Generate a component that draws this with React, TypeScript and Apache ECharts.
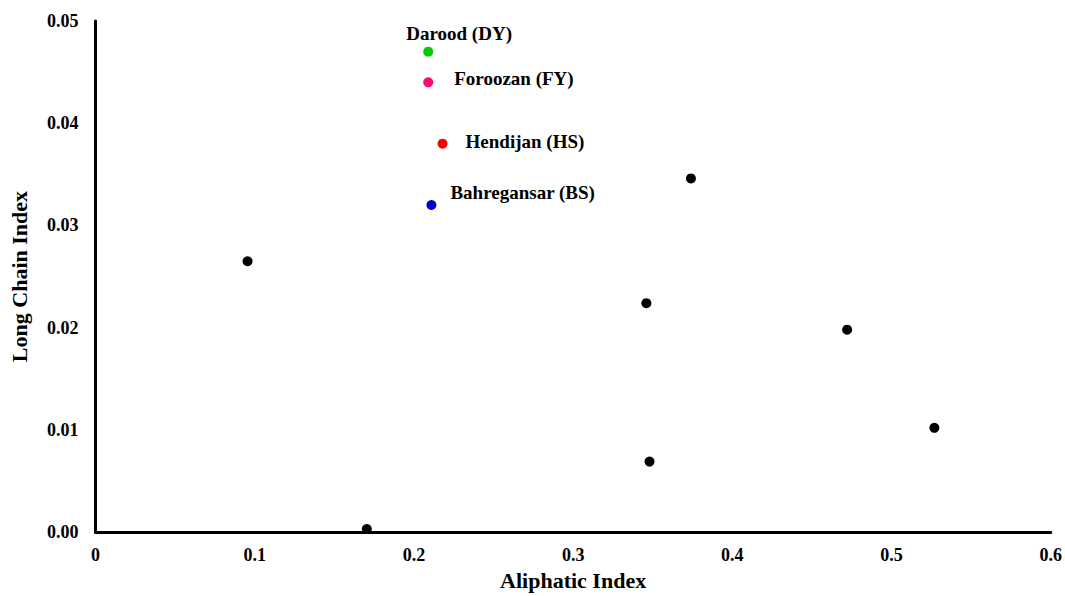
import React, { useEffect, useRef } from "react";
import * as echarts from "echarts";

const blackX = [0.0955, 0.1704, 0.374, 0.346, 0.4721, 0.5269, 0.348];
const blackY = [0.0265, 0.0003, 0.0346, 0.0224, 0.0198, 0.0102, 0.0069];

const siteNames = ["Darood (DY)", "Foroozan (FY)", "Hendijan (HS)", "Bahregansar (BS)"];
const siteX = [0.209, 0.209, 0.218, 0.211];
const siteY = [0.047, 0.044, 0.038, 0.032];
const siteColors = ["#00cc00", "#ff0a6c", "#ff0000", "#0000cc"];
const labelOffsets = [[-32, -18], [16, -4], [13, -2], [9, -12]];

const xTicks = [0, 0.1, 0.2, 0.3, 0.4, 0.5, 0.6];
const yTicks = [0, 0.01, 0.02, 0.03, 0.04, 0.05];

const FONT = "'Liberation Serif', 'Times New Roman', serif";

export default function App() {
  const ref = useRef<HTMLDivElement>(null);
  useEffect(() => {
    document.body.style.margin = "0";
    const chart = echarts.init(ref.current!, null, { renderer: "svg" });
    const textStyle = { fontFamily: FONT, fontWeight: "bold" as const, fontSize: 18, color: "#000" };
    const titleStyle = { ...textStyle, fontSize: 22 };
    chart.setOption({
      animation: false,
      backgroundColor: "#fff",
      grid: { left: 95.5, right: 13.5, top: 21, bottom: 59.5, containLabel: false },
      xAxis: {
        type: "value",
        min: xTicks[0],
        max: xTicks[xTicks.length - 1],
        interval: 0.1,
        name: "Aliphatic Index",
        nameLocation: "middle",
        nameGap: 35,
        nameTextStyle: titleStyle,
        axisLine: { show: true, onZero: false, lineStyle: { color: "#000", width: 3 } },
        axisTick: { show: false },
        splitLine: { show: false },
        axisLabel: { ...textStyle, margin: 14, formatter: (v: number) => (v === 0 ? "0" : String(+v.toFixed(1))) },
      },
      yAxis: {
        type: "value",
        min: yTicks[0],
        max: yTicks[yTicks.length - 1],
        interval: 0.01,
        name: "Long Chain Index",
        nameLocation: "middle",
        nameRotate: 90,
        nameGap: 65,
        nameTextStyle: titleStyle,
        axisLine: { show: true, onZero: false, lineStyle: { color: "#000", width: 3 } },
        axisTick: { show: false },
        splitLine: { show: false },
        axisLabel: { ...textStyle, margin: 17, formatter: (v: number) => v.toFixed(2) },
      },
      series: [
        {
          type: "scatter",
          symbolSize: 10,
          itemStyle: { color: "#000", opacity: 1 },
          data: blackX.map((x, i) => [x, blackY[i]]),
        },
        {
          type: "scatter",
          symbolSize: 10,
          data: siteX.map((x, i) => ({
            value: [x, siteY[i]],
            name: siteNames[i],
            itemStyle: { color: siteColors[i], opacity: 1 },
            label: {
              show: true,
              position: "right",
              distance: 5,
              offset: labelOffsets[i],
              formatter: siteNames[i],
              ...textStyle,
              fontSize: 19,
            },
          })),
        },
      ],
    });
    return () => chart.dispose();
  }, []);
  return <div ref={ref} style={{ width: 1065, height: 596 }} />;
}
